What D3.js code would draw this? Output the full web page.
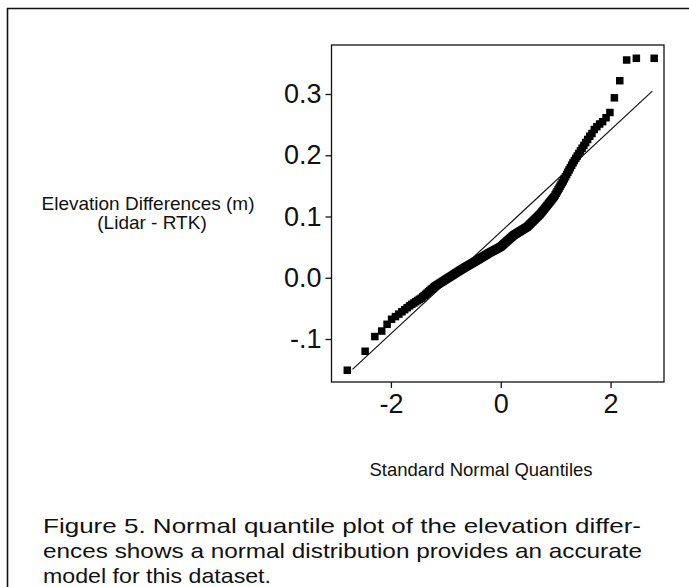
<!DOCTYPE html>
<html>
<head>
<meta charset="utf-8">
<script src="https://cdn.jsdelivr.net/npm/d3@7"></script>
<style>
  html, body { margin: 0; padding: 0; background: #fff; }
  svg { display: block; }
  text { font-family: "Liberation Sans", Arial, Helvetica, sans-serif; fill: #111; }
</style>
</head>
<body>
<svg id="chart" width="689" height="587"></svg>
<script>
// ---------------- DATA ----------------
// Sorted elevation differences (Lidar - RTK), metres
const elevationDiffs = [
  -0.151, -0.120, -0.096, -0.087, -0.076, -0.0678, -0.0634, -0.0594, -0.0555, -0.0521,
  -0.0489, -0.0459, -0.0434, -0.0412, -0.0391, -0.0371, -0.0353, -0.0336, -0.0313, -0.0291,
  -0.027, -0.025, -0.023, -0.021, -0.019, -0.0175, -0.0157, -0.0142, -0.0129, -0.0117,
  -0.0106, -0.0095, -0.0084, -0.0073, -0.0062, -0.0052, -0.0042, -0.0032, -0.0022, -0.0012,
  -0.0003, 0.0006, 0.0015, 0.0024, 0.0033, 0.0042, 0.0051, 0.0060, 0.0068, 0.0077,
  0.0085, 0.0093, 0.0101, 0.0109, 0.0117, 0.0125, 0.0132, 0.0140, 0.0147, 0.0154,
  0.0161, 0.0168, 0.0175, 0.0182, 0.0188, 0.0195, 0.0201, 0.0208, 0.0214, 0.0220,
  0.0227, 0.0233, 0.0240, 0.0246, 0.0252, 0.0258, 0.0264, 0.0271, 0.0277, 0.0283,
  0.0289, 0.0295, 0.0301, 0.0307, 0.0313, 0.0319, 0.0325, 0.0331, 0.0337, 0.0343,
  0.0349, 0.0355, 0.0361, 0.0367, 0.0373, 0.0379, 0.0385, 0.0392, 0.0397, 0.0402,
  0.0408, 0.0413, 0.0418, 0.0423, 0.0428, 0.0433, 0.0438, 0.0443, 0.0448, 0.0453,
  0.0458, 0.0463, 0.0468, 0.0473, 0.0479, 0.0484, 0.0489, 0.0494, 0.0499, 0.0505,
  0.0511, 0.0520, 0.0528, 0.0536, 0.0545, 0.0553, 0.0561, 0.0569, 0.0578, 0.0586,
  0.0595, 0.0603, 0.0612, 0.0620, 0.0629, 0.0637, 0.0645, 0.0653, 0.0662, 0.0670,
  0.0679, 0.0688, 0.0696, 0.0702, 0.0708, 0.0714, 0.0720, 0.0726, 0.0732, 0.0738,
  0.0744, 0.0750, 0.0756, 0.0762, 0.0769, 0.0775, 0.0781, 0.0787, 0.0793, 0.0800,
  0.0806, 0.0813, 0.0819, 0.0825, 0.0831, 0.0841, 0.0852, 0.0862, 0.0873, 0.0884,
  0.0894, 0.0905, 0.0916, 0.0927, 0.0938, 0.0949, 0.0960, 0.0972, 0.0983, 0.0995,
  0.1006, 0.1018, 0.1029, 0.1042, 0.1057, 0.1072, 0.1088, 0.1103, 0.1119, 0.1135,
  0.1151, 0.1168, 0.1184, 0.1201, 0.1219, 0.1236, 0.1253, 0.1271, 0.1289, 0.1307,
  0.1326, 0.1353, 0.1379, 0.1407, 0.1435, 0.1463, 0.1493, 0.1522, 0.1553, 0.1583,
  0.1615, 0.1650, 0.1687, 0.1723, 0.1760, 0.1797, 0.1837, 0.1875, 0.1912, 0.1950,
  0.1988, 0.2029, 0.2071, 0.2115, 0.2160, 0.2208, 0.2258, 0.2310, 0.2355, 0.2420,
  0.2466, 0.2510, 0.2548, 0.2613, 0.2698, 0.2938, 0.3217, 0.3555, 0.3583, 0.3583
];
// Reference normal line: mean and standard deviation of the fitted normal
const fitMean = 0.075;
const fitSD = 0.0832;
const lineRange = [-2.70, 2.76];

const xTickValues = [-2, 0, 2];
const xTickLabels = ["-2", "0", "2"];
const yTickValues = [0.3, 0.2, 0.1, 0.0, -0.1];
const yTickLabels = ["0.3", "0.2", "0.1", "0.0", "-.1"];

const yTitleLines = ["Elevation Differences (m)", "(Lidar - RTK)"];
const xTitle = "Standard Normal Quantiles";
const captionLines = [
  "Figure 5. Normal quantile plot of the elevation differ-",
  "ences shows a normal distribution provides an accurate",
  "model for this dataset."
];

// ---------------- HELPERS ----------------
function invNorm(p) {
  const a = [-3.969683028665376e+01, 2.209460984245205e+02, -2.759285104469687e+02, 1.383577518672690e+02, -3.066479806614716e+01, 2.506628277459239e+00];
  const b = [-5.447609879822406e+01, 1.615858368580409e+02, -1.556989798598866e+02, 6.680131188771972e+01, -1.328068155288572e+01];
  const c = [-7.784894002430293e-03, -3.223964580411365e-01, -2.400758277161838e+00, -2.549732539343734e+00, 4.374664141464968e+00, 2.938163982698783e+00];
  const d = [7.784695709041462e-03, 3.224671290700398e-01, 2.445134137142996e+00, 3.754408661907416e+00];
  const pl = 0.02425, ph = 1 - pl;
  let q, r;
  if (p < pl) {
    q = Math.sqrt(-2 * Math.log(p));
    return (((((c[0]*q+c[1])*q+c[2])*q+c[3])*q+c[4])*q+c[5]) / ((((d[0]*q+d[1])*q+d[2])*q+d[3])*q+1);
  }
  if (p > ph) {
    q = Math.sqrt(-2 * Math.log(1 - p));
    return -(((((c[0]*q+c[1])*q+c[2])*q+c[3])*q+c[4])*q+c[5]) / ((((d[0]*q+d[1])*q+d[2])*q+d[3])*q+1);
  }
  q = p - 0.5; r = q * q;
  return (((((a[0]*r+a[1])*r+a[2])*r+a[3])*r+a[4])*r+a[5])*q / (((((b[0]*r+b[1])*r+b[2])*r+b[3])*r+b[4])*r+1);
}

// Normal quantile plot: theoretical quantile by rank (Blom plotting positions)
const n = elevationDiffs.length;
const points = elevationDiffs.slice().sort((a, b) => a - b)
  .map((v, i) => ({ q: invNorm((i + 1 - 0.375) / (n + 0.25)), v }));

// ---------------- LAYOUT ----------------
const svg = d3.select("#chart");
const plot = { left: 331.5, right: 664, top: 45, bottom: 382 };

const x = d3.scaleLinear().domain([-3.082, 2.973]).range([plot.left, plot.right]);
const y = d3.scaleLinear().domain([-0.1702, 0.38]).range([plot.bottom, plot.top]);

// outer figure frame (left and top edges)
svg.append("path")
  .attr("d", "M7.5,587 L7.5,8.5 L689,8.5")
  .attr("fill", "none").attr("stroke", "#111").attr("stroke-width", 1.6);

// plot box
svg.append("rect")
  .attr("x", plot.left).attr("y", plot.top)
  .attr("width", plot.right - plot.left).attr("height", plot.bottom - plot.top)
  .attr("fill", "none").attr("stroke", "#111").attr("stroke-width", 1.3);

// axes
const xAxis = d3.axisBottom(x).tickValues(xTickValues)
  .tickFormat((d, i) => xTickLabels[i]).tickSize(6).tickPadding(6);
const gx = svg.append("g").attr("transform", `translate(0,${plot.bottom})`).call(xAxis);
gx.select(".domain").remove();
gx.selectAll("line").attr("stroke", "#111").attr("stroke-width", 1.3);
gx.selectAll("text").attr("font-size", 27).attr("fill", "#111")
  .attr("font-family", '"Liberation Sans", Arial, sans-serif');

const yAxis = d3.axisLeft(y).tickValues(yTickValues)
  .tickFormat((d, i) => yTickLabels[i]).tickSize(6).tickPadding(4);
const gy = svg.append("g").attr("transform", `translate(${plot.left},0)`).call(yAxis);
gy.select(".domain").remove();
gy.selectAll("line").attr("stroke", "#111").attr("stroke-width", 1.3);
gy.selectAll("text").attr("font-size", 27).attr("fill", "#111")
  .attr("font-family", '"Liberation Sans", Arial, sans-serif');

// reference line
svg.append("line")
  .attr("x1", x(lineRange[0])).attr("y1", y(fitMean + fitSD * lineRange[0]))
  .attr("x2", x(lineRange[1])).attr("y2", y(fitMean + fitSD * lineRange[1]))
  .attr("stroke", "#111").attr("stroke-width", 1.2);

// points (filled squares)
const s = 7.5;
svg.append("g").selectAll("rect").data(points).join("rect")
  .attr("x", d => x(d.q) - s / 2).attr("y", d => y(d.v) - s / 2)
  .attr("width", s).attr("height", s).attr("fill", "#000");

// y title
svg.append("text").attr("x", 148).attr("y", 210).attr("text-anchor", "middle")
  .attr("font-size", 19).text(yTitleLines[0]);
svg.append("text").attr("x", 152).attr("y", 229).attr("text-anchor", "middle")
  .attr("font-size", 19).text(yTitleLines[1]);

// x title
svg.append("text").attr("x", 481).attr("y", 476).attr("text-anchor", "middle")
  .attr("font-size", 18.5).text(xTitle);

// caption
const capBase = [533, 558, 583];
const capLen = [598, 599, 228];
captionLines.forEach((t, i) => {
  svg.append("text").attr("x", 43).attr("y", capBase[i])
    .attr("font-size", 21)
    .attr("font-family", '"Liberation Sans", Arial, sans-serif')
    .attr("textLength", capLen[i]).attr("lengthAdjust", "spacingAndGlyphs")
    .attr("fill", "#222")
    .text(t);
});
</script>
</body>
</html>
